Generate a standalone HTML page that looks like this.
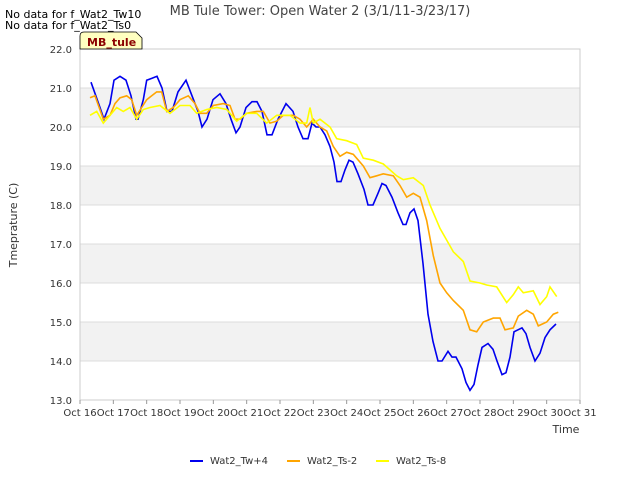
<!DOCTYPE html>
<html><head><meta charset="utf-8"><style>
body{margin:0;background:#fff;font-family:"Liberation Sans",sans-serif;}
svg text{font-family:"DejaVu Sans","Liberation Sans",sans-serif;}
</style></head><body>
<svg id="chart" width="640" height="480" xmlns="http://www.w3.org/2000/svg">
<rect width="640" height="480" fill="#fff"/>
<g id="bands"></g>
<g id="grid"></g>
<g id="series"></g>
<g id="axes"></g>
<text x="320" y="15" text-anchor="middle" font-size="13" fill="#444">MB Tule Tower: Open Water 2 (3/1/11-3/23/17)</text>
<text x="5" y="18" font-size="11" fill="#000">No data for f_Wat2_Tw10</text>
<text x="5" y="29" font-size="11" fill="#000">No data for f_Wat2_Ts0</text>
<g>
<path d="M80,49 L80,36 Q80,32 84,32 L136,32 L142,38 L142,49 Z" fill="#ffffc0" stroke="#000" stroke-width="0.8"/>
<text x="87" y="46" font-size="11" font-weight="bold" fill="#8b0000">MB_tule</text>
</g>
<text x="566" y="433" text-anchor="middle" font-size="11" fill="#333">Time</text>
<text transform="translate(17,225) rotate(-90)" text-anchor="middle" font-size="11" fill="#333">Tmeprature (C)</text>
<g id="legend"></g>
</svg>
<script>
const xTickLabels=["Oct 16","Oct 17","Oct 18","Oct 19","Oct 20","Oct 21","Oct 22","Oct 23","Oct 24","Oct 25","Oct 26","Oct 27","Oct 28","Oct 29","Oct 30","Oct 31"];
const yTicks=[13,14,15,16,17,18,19,20,21,22];
const seriesNames=["Wat2_Tw+4","Wat2_Ts-2","Wat2_Ts-8"];
const seriesColors=["#0000ee","#ffa500","#ffff00"];
const twDays=[0.33,0.6,0.72,0.9,1.02,1.2,1.38,1.53,1.68,1.74,1.9,2.0,2.16,2.31,2.46,2.61,2.76,2.94,3.18,3.36,3.54,3.66,3.81,3.99,4.2,4.38,4.53,4.68,4.8,4.98,5.16,5.31,5.46,5.61,5.76,5.94,6.18,6.39,6.54,6.69,6.84,6.96,7.08,7.2,7.35,7.5,7.62,7.71,7.83,7.95,8.07,8.19,8.34,8.52,8.64,8.79,8.94,9.06,9.18,9.36,9.54,9.69,9.78,9.9,10.02,10.14,10.29,10.44,10.59,10.74,10.86,11.04,11.16,11.28,11.46,11.58,11.7,11.82,11.94,12.06,12.24,12.39,12.51,12.66,12.78,12.9,13.02,13.14,13.26,13.38,13.5,13.65,13.8,13.95,14.1,14.28];
const twVals=[21.15,20.5,20.2,20.6,21.2,21.3,21.2,20.8,20.2,20.2,20.7,21.2,21.25,21.3,21.0,20.4,20.4,20.9,21.2,20.8,20.4,20.0,20.2,20.7,20.85,20.6,20.2,19.85,20.0,20.5,20.65,20.65,20.4,19.8,19.8,20.2,20.6,20.4,20.0,19.7,19.7,20.1,20.0,20.0,19.8,19.5,19.1,18.6,18.6,18.9,19.15,19.1,18.8,18.4,18.0,18.0,18.3,18.55,18.5,18.2,17.8,17.5,17.5,17.8,17.9,17.6,16.5,15.2,14.5,14.0,14.0,14.25,14.1,14.1,13.8,13.45,13.25,13.4,13.9,14.35,14.45,14.3,14.0,13.65,13.7,14.1,14.75,14.8,14.85,14.7,14.35,14.0,14.2,14.6,14.8,14.95];
const ts2Days=[0.3,0.45,0.7,0.9,1.05,1.2,1.4,1.55,1.7,1.85,2.0,2.15,2.3,2.45,2.6,2.8,3.0,3.25,3.45,3.6,3.8,4.0,4.3,4.5,4.65,4.8,5.0,5.3,5.5,5.7,5.9,6.1,6.4,6.6,6.8,7.0,7.2,7.4,7.6,7.8,8.0,8.2,8.5,8.7,8.9,9.1,9.4,9.6,9.8,10.0,10.2,10.4,10.6,10.8,11.0,11.2,11.5,11.7,11.9,12.1,12.4,12.6,12.75,13.0,13.15,13.4,13.6,13.75,14.0,14.2,14.35];
const ts2Vals=[20.75,20.8,20.2,20.3,20.6,20.75,20.8,20.7,20.3,20.5,20.7,20.8,20.9,20.9,20.4,20.5,20.7,20.8,20.6,20.35,20.35,20.55,20.6,20.55,20.2,20.2,20.35,20.4,20.4,20.1,20.15,20.3,20.3,20.2,20.0,20.2,20.0,19.9,19.5,19.25,19.35,19.3,19.0,18.7,18.75,18.8,18.75,18.5,18.2,18.3,18.2,17.6,16.7,16.0,15.75,15.55,15.3,14.8,14.75,15.0,15.1,15.1,14.8,14.85,15.15,15.3,15.2,14.9,15.0,15.2,15.25];
const ts8Days=[0.3,0.5,0.7,0.9,1.1,1.3,1.5,1.7,1.9,2.1,2.4,2.7,3.0,3.3,3.5,3.8,4.1,4.4,4.7,5.0,5.3,5.6,5.9,6.3,6.6,6.8,6.9,7.0,7.2,7.5,7.7,8.0,8.3,8.5,8.8,9.1,9.3,9.5,9.7,10.0,10.3,10.5,10.8,11.0,11.2,11.5,11.7,12.0,12.2,12.5,12.8,13.0,13.15,13.3,13.6,13.8,14.0,14.1,14.3];
const ts8Vals=[20.3,20.4,20.1,20.3,20.5,20.4,20.5,20.2,20.45,20.5,20.55,20.35,20.55,20.55,20.35,20.45,20.5,20.45,20.15,20.35,20.35,20.1,20.3,20.3,20.1,20.1,20.5,20.1,20.2,20.0,19.7,19.65,19.55,19.2,19.15,19.05,18.9,18.75,18.65,18.7,18.5,18.0,17.4,17.1,16.8,16.55,16.05,16.0,15.95,15.9,15.5,15.7,15.9,15.75,15.8,15.45,15.65,15.9,15.65];

const X0=80,X1=580,Y0=400,Y1=49,NS="http://www.w3.org/2000/svg";
const xs=d=>X0+d*(X1-X0)/15;
const ys=v=>Y0-(v-13)*(Y0-Y1)/9;
function mk(tag,attrs,parent){const e=document.createElementNS(NS,tag);for(const k in attrs)e.setAttribute(k,attrs[k]);parent.appendChild(e);return e;}
const bands=document.getElementById('bands'),grid=document.getElementById('grid'),axes=document.getElementById('axes'),ser=document.getElementById('series'),leg=document.getElementById('legend');
for(let v=14;v<22;v+=2){const r=mk('rect',{x:X0,y:ys(v+1),width:X1-X0,height:ys(v)-ys(v+1),fill:'#f2f2f2'},bands);

}
yTicks.forEach(v=>{const l=mk('line',{x1:X0,x2:X1,y1:ys(v),y2:ys(v),stroke:'#dcdcdc','stroke-width':1},grid);


const t=mk('text',{x:X0-8,y:ys(v)+4,'text-anchor':'end','font-size':10,fill:'#333'},axes);t.textContent=v.toFixed(1);

});
const frame=mk('rect',{x:X0,y:Y1,width:X1-X0,height:Y0-Y1,fill:'none',stroke:'#ccc'},axes);


xTickLabels.forEach((s,i)=>{const x=xs(i);mk('line',{x1:x,x2:x,y1:Y0,y2:Y0+4,stroke:'#999'},axes);
const t=mk('text',{x:x,y:Y0+16,'text-anchor':'middle','font-size':10,fill:'#333'},axes);t.textContent=s;

});
[[twDays,twVals],[ts2Days,ts2Vals],[ts8Days,ts8Vals]].forEach((s,k)=>{
const d=s[0].map((dd,i)=>(i?'L':'M')+xs(dd).toFixed(1)+','+ys(s[1][i]).toFixed(1)).join('');
const p=mk('path',{d:d,fill:'none',stroke:seriesColors[k],'stroke-width':1.6},ser);

});
const lx=[190,287,376];
seriesNames.forEach((n,k)=>{const g=mk('g',{},leg);


mk('line',{x1:lx[k],x2:lx[k]+13,y1:461,y2:461,stroke:seriesColors[k],'stroke-width':2},g);
const t=mk('text',{x:lx[k]+20,y:464,'font-size':10,fill:'#333'},g);t.textContent=n;});
</script>
</body></html>
